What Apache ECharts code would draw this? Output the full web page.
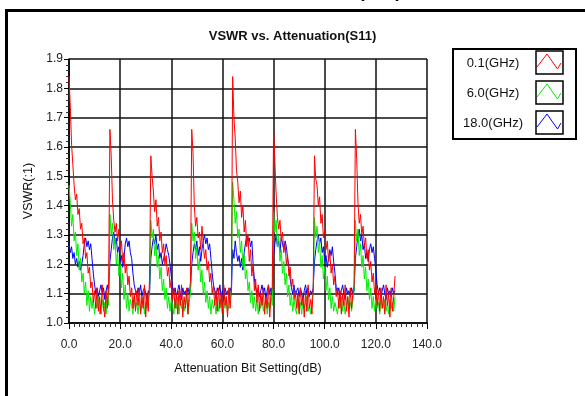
<!DOCTYPE html>
<html>
<head>
<meta charset="utf-8">
<script src="https://cdn.jsdelivr.net/npm/echarts@6/dist/echarts.min.js"></script>
<style>html,body{margin:0;padding:0;background:#fff;}#c{width:585px;height:396px;}</style>
</head>
<body>
<div id="c"></div>
<script>
// Attenuation states (dB), 0.5 dB step from 0 to 127.5
const stepDb = 0.5;
const xTickLabels = ['0.0','20.0','40.0','60.0','80.0','100.0','120.0','140.0'];
const yTickLabels = ['1.0','1.1','1.2','1.3','1.4','1.5','1.6','1.7','1.8','1.9'];
const seriesNames = ['0.1(GHz)','6.0(GHz)','18.0(GHz)'];
const seriesColors = ['#ff0000','#00ee00','#0000ff'];

const vswr01 = [
1.84,1.74,1.61,1.54,1.47,1.42,1.44,1.37,1.39,1.32,1.34,1.27,1.29,1.22,1.24,1.17,1.19,1.12,1.14,1.07,1.11,1.05,1.12,1.04,1.09,1.03,1.13,1.06,1.02,1.11,1.05,1.14,
1.66,1.57,1.42,1.35,1.31,1.34,1.28,1.32,1.25,1.28,1.21,1.24,1.17,1.20,1.13,1.16,1.09,1.12,1.05,1.10,1.04,1.11,1.06,1.12,1.03,1.09,1.05,1.13,1.02,1.10,1.04,1.15,
1.57,1.50,1.45,1.38,1.42,1.33,1.36,1.28,1.31,1.24,1.27,1.20,1.23,1.16,1.19,1.12,1.15,1.08,1.12,1.05,1.10,1.03,1.11,1.06,1.13,1.02,1.09,1.05,1.12,1.03,1.10,1.14,
1.66,1.58,1.40,1.33,1.36,1.29,1.31,1.25,1.33,1.27,1.22,1.25,1.18,1.21,1.14,1.17,1.10,1.13,1.06,1.11,1.04,1.12,1.05,1.10,1.03,1.13,1.06,1.09,1.02,1.12,1.05,1.11,
1.84,1.70,1.63,1.52,1.48,1.41,1.45,1.36,1.40,1.31,1.35,1.26,1.30,1.21,1.25,1.16,1.20,1.11,1.15,1.07,1.13,1.04,1.10,1.06,1.12,1.03,1.09,1.05,1.13,1.02,1.10,1.12,
1.66,1.55,1.44,1.36,1.32,1.35,1.28,1.31,1.24,1.27,1.20,1.23,1.16,1.19,1.12,1.15,1.08,1.11,1.05,1.10,1.03,1.12,1.06,1.09,1.02,1.11,1.04,1.13,1.05,1.08,1.03,1.12,
1.57,1.49,1.47,1.40,1.43,1.34,1.37,1.29,1.32,1.25,1.28,1.21,1.24,1.17,1.20,1.13,1.16,1.09,1.12,1.05,1.11,1.03,1.10,1.06,1.13,1.04,1.09,1.02,1.12,1.05,1.10,1.13,
1.66,1.56,1.41,1.34,1.37,1.30,1.33,1.26,1.29,1.22,1.25,1.18,1.21,1.14,1.17,1.10,1.13,1.06,1.11,1.04,1.12,1.05,1.09,1.03,1.13,1.06,1.10,1.02,1.12,1.04,1.09,1.16
];

const vswr60 = [
1.47,1.41,1.33,1.37,1.28,1.31,1.23,1.27,1.18,1.22,1.14,1.17,1.10,1.14,1.06,1.11,1.04,1.09,1.05,1.08,1.03,1.07,1.05,1.09,1.03,1.06,1.08,1.04,1.07,1.03,1.09,1.06,
1.37,1.30,1.34,1.25,1.29,1.20,1.24,1.16,1.20,1.12,1.17,1.08,1.13,1.05,1.10,1.04,1.08,1.06,1.03,1.09,1.05,1.07,1.03,1.08,1.04,1.06,1.09,1.03,1.07,1.05,1.08,1.10,
1.35,1.29,1.32,1.23,1.27,1.19,1.23,1.15,1.19,1.11,1.15,1.08,1.12,1.05,1.09,1.04,1.08,1.06,1.03,1.08,1.05,1.09,1.03,1.07,1.05,1.08,1.04,1.06,1.09,1.03,1.07,1.10,
1.34,1.28,1.31,1.22,1.26,1.18,1.22,1.14,1.18,1.10,1.14,1.07,1.11,1.05,1.09,1.03,1.08,1.05,1.07,1.03,1.09,1.04,1.06,1.08,1.03,1.07,1.05,1.09,1.04,1.06,1.08,1.11,
1.48,1.42,1.34,1.38,1.29,1.32,1.24,1.28,1.19,1.23,1.15,1.18,1.11,1.14,1.07,1.11,1.05,1.09,1.04,1.08,1.03,1.07,1.05,1.09,1.04,1.06,1.08,1.03,1.07,1.05,1.09,1.06,
1.38,1.31,1.35,1.26,1.30,1.21,1.25,1.17,1.21,1.13,1.17,1.09,1.13,1.06,1.10,1.04,1.08,1.05,1.03,1.09,1.04,1.07,1.03,1.08,1.05,1.07,1.09,1.04,1.06,1.03,1.08,1.10,
1.36,1.29,1.33,1.24,1.28,1.19,1.23,1.15,1.19,1.11,1.16,1.08,1.12,1.05,1.09,1.04,1.07,1.05,1.03,1.08,1.05,1.09,1.04,1.07,1.03,1.06,1.09,1.05,1.07,1.04,1.08,1.11,
1.35,1.28,1.32,1.23,1.27,1.19,1.23,1.15,1.19,1.11,1.15,1.08,1.12,1.05,1.09,1.04,1.08,1.05,1.07,1.03,1.09,1.05,1.06,1.08,1.04,1.07,1.03,1.08,1.05,1.07,1.04,1.09
];

const vswr180 = [
1.27,1.24,1.26,1.22,1.24,1.20,1.22,1.19,1.21,1.18,1.20,1.23,1.27,1.29,1.26,1.28,1.25,1.27,1.22,1.17,1.13,1.10,1.12,1.09,1.11,1.13,1.10,1.12,1.08,1.11,1.13,1.10,
1.21,1.25,1.29,1.31,1.27,1.29,1.24,1.26,1.21,1.23,1.19,1.22,1.27,1.29,1.26,1.28,1.24,1.22,1.17,1.13,1.11,1.09,1.12,1.10,1.13,1.09,1.11,1.12,1.10,1.08,1.11,1.10,
1.22,1.26,1.29,1.27,1.30,1.25,1.27,1.22,1.24,1.20,1.22,1.24,1.27,1.25,1.23,1.20,1.16,1.12,1.10,1.12,1.09,1.11,1.13,1.10,1.08,1.12,1.10,1.11,1.09,1.12,1.10,1.11,
1.20,1.24,1.27,1.25,1.28,1.23,1.26,1.21,1.25,1.28,1.30,1.27,1.29,1.25,1.27,1.22,1.17,1.13,1.11,1.09,1.12,1.10,1.13,1.09,1.11,1.08,1.12,1.10,1.11,1.09,1.12,1.10,
1.25,1.22,1.28,1.24,1.21,1.23,1.19,1.22,1.18,1.24,1.27,1.30,1.28,1.29,1.26,1.28,1.20,1.15,1.12,1.10,1.12,1.09,1.11,1.13,1.10,1.12,1.08,1.11,1.13,1.10,1.12,1.09,
1.23,1.27,1.30,1.26,1.28,1.24,1.29,1.27,1.25,1.28,1.26,1.22,1.19,1.15,1.12,1.10,1.13,1.09,1.11,1.12,1.09,1.12,1.10,1.08,1.11,1.13,1.10,1.12,1.09,1.11,1.10,1.12,
1.21,1.25,1.28,1.30,1.27,1.29,1.24,1.26,1.21,1.23,1.19,1.22,1.25,1.23,1.26,1.21,1.17,1.12,1.10,1.12,1.09,1.11,1.13,1.10,1.08,1.12,1.10,1.11,1.09,1.12,1.10,1.11,
1.22,1.26,1.30,1.32,1.28,1.30,1.25,1.27,1.22,1.24,1.21,1.25,1.27,1.24,1.26,1.22,1.18,1.13,1.10,1.12,1.09,1.11,1.13,1.10,1.08,1.12,1.10,1.11,1.09,1.12,1.10,1.11
];

const allSeries = [vswr01, vswr60, vswr180];
const FONT = "'Liberation Sans', Arial, sans-serif";

const chart = echarts.init(document.getElementById('c'), null, {renderer: 'canvas'});

const toPairs = arr => arr.map((v, i) => [i * stepDb, v]);

// legend graphics
const legendX = 453, legendY = 49;
const legendGraphics = [
  {type: 'rect', shape: {x: legendX, y: legendY, width: 123, height: 90}, style: {fill: '#fff', stroke: '#000', lineWidth: 2}, z: 10}
];
seriesNames.forEach((name, k) => {
  const ry = 51 + k * 30;
  legendGraphics.push({type: 'text', x: 493, y: ry + 12, style: {text: name, font: '13px ' + FONT, fill: '#111', textAlign: 'center', textVerticalAlign: 'middle'}, z: 11});
  legendGraphics.push({type: 'rect', shape: {x: 536, y: ry, width: 27, height: 23}, style: {fill: '#fff', stroke: '#000', lineWidth: 1.5}, z: 11});
  legendGraphics.push({type: 'polyline', shape: {points: [[537, ry + 16], [547, ry + 3], [557.5, ry + 18], [561, ry + 12]]}, style: {stroke: seriesColors[k], lineWidth: 1, fill: null}, z: 12});
});

const option = {
  animation: false,
  backgroundColor: '#fff',
  title: {
    text: 'VSWR vs. Attenuation(S11)',
    left: 'center',
    top: 25,
    textStyle: {fontFamily: FONT, fontSize: 13, fontWeight: 'bold', color: '#111'}
  },
  grid: {left: 69, right: 158, top: 59, bottom: 73},
  xAxis: {
    type: 'value', min: 0, max: 140, interval: 20,
    name: 'Attenuation Bit Setting(dB)', nameLocation: 'middle', nameGap: 39,
    nameTextStyle: {fontFamily: FONT, fontSize: 12.5, color: '#111'},
    axisLine: {show: true, lineStyle: {color: '#000', width: 1.5}},
    axisTick: {show: true, length: 6, lineStyle: {color: '#000'}},
    minorTick: {show: true, splitNumber: 10, length: 4, lineStyle: {color: '#333'}},
    axisLabel: {margin: 16, fontFamily: FONT, fontSize: 12, color: '#222', formatter: v => xTickLabels[Math.round(v / 20)]},
    splitLine: {show: true, lineStyle: {color: '#111', width: 1.5}}
  },
  yAxis: {
    type: 'value', min: 1.0, max: 1.9, interval: 0.1,
    name: 'VSWR(:1)', nameLocation: 'middle', nameGap: 26,
    nameTextStyle: {fontFamily: FONT, fontSize: 12.5, color: '#111'},
    axisLine: {show: true, lineStyle: {color: '#000', width: 1.5}},
    axisTick: {show: true, length: 5, lineStyle: {color: '#000'}},
    minorTick: {show: true, splitNumber: 5, length: 3, lineStyle: {color: '#333'}},
    axisLabel: {margin: 6, fontFamily: FONT, fontSize: 12, color: '#222', formatter: v => yTickLabels[Math.round((v - 1) * 10)]},
    splitLine: {show: true, lineStyle: {color: '#111', width: 1.5}}
  },
  series: [2, 1, 0].map(k => ({
    name: seriesNames[k], type: 'line', data: toPairs(allSeries[k]),
    showSymbol: false, symbol: 'none',
    lineStyle: {color: seriesColors[k], width: 1}, z: 3 + (2 - k)
  })),
  graphic: [
    {type: 'rect', shape: {x: 5, y: 9, width: 580, height: 3}, style: {fill: '#000'}},
    {type: 'rect', shape: {x: 5, y: 9, width: 3, height: 387}, style: {fill: '#000'}},
    {type: 'text', x: 380, y: 1.5, style: {text: '(S11)', font: 'bold 18px ' + FONT, fill: '#000', textAlign: 'center', textVerticalAlign: 'bottom'}}
  ].concat(legendGraphics)
};
chart.setOption(option);
</script>
</body>
</html>
